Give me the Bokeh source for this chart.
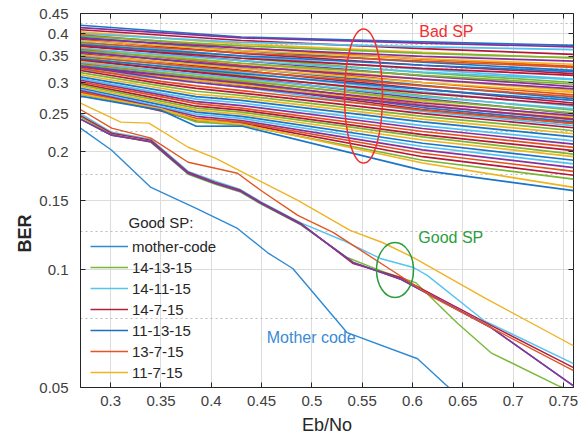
from bokeh.plotting import figure
from bokeh.models import (Range1d, FixedTicker, NumeralTickFormatter, LinearAxis, LogAxis,
                          Legend, LegendItem, Label, Title, ColumnDataSource, CustomJSTickFormatter)
from bokeh.embed import file_html
from bokeh.resources import INLINE

FONT = "Liberation Sans"

# ---------------- data ----------------
x_ticks = [0.3, 0.35, 0.4, 0.45, 0.5, 0.55, 0.6, 0.65, 0.7, 0.75]
y_ticks = [0.05, 0.1, 0.15, 0.2, 0.25, 0.3, 0.35, 0.4, 0.45]
y_minor = [0.075, 0.125, 0.175, 0.225, 0.275, 0.325, 0.375, 0.425]

mother_code_x = [0.27, 0.301, 0.34, 0.385, 0.426, 0.457, 0.481, 0.535, 0.605, 0.636, 0.66]
mother_code_ber = [0.2295, 0.2015, 0.162, 0.1432, 0.1273, 0.1099, 0.1006, 0.069, 0.0592, 0.05, 0.045]

sp_14_13_15_x = [0.27, 0.301, 0.34, 0.377, 0.404, 0.429, 0.449, 0.489, 0.535, 0.568, 0.603, 0.645, 0.678, 0.745, 0.76]
sp_14_13_15_ber = [0.245, 0.221, 0.211, 0.175, 0.165, 0.1575, 0.147, 0.130, 0.1073, 0.0994, 0.0926, 0.0728, 0.0613, 0.0505, 0.049]

sp_14_11_15_x = [0.27, 0.301, 0.34, 0.377, 0.404, 0.429, 0.449, 0.489, 0.531, 0.568, 0.601, 0.615, 0.671, 0.76]
sp_14_11_15_ber = [0.250, 0.224, 0.215, 0.178, 0.168, 0.160, 0.149, 0.1315, 0.1186, 0.1067, 0.1012, 0.0965, 0.0741, 0.0575]

sp_14_7_15_x = [0.27, 0.301, 0.34, 0.377, 0.404, 0.429, 0.449, 0.489, 0.541, 0.588, 0.678, 0.76]
sp_14_7_15_ber = [0.247, 0.2227, 0.2138, 0.1771, 0.1669, 0.1593, 0.1484, 0.1311, 0.1035, 0.0954, 0.072, 0.0562]

sp_11_13_15_x = [0.27, 0.301, 0.34, 0.377, 0.404, 0.429, 0.449, 0.489, 0.541, 0.588, 0.678, 0.76]
sp_11_13_15_ber = [0.242, 0.220, 0.212, 0.176, 0.166, 0.1585, 0.1478, 0.1305, 0.1042, 0.0945, 0.0711, 0.0505]

sp_13_7_15_x = [0.27, 0.301, 0.34, 0.377, 0.404, 0.426, 0.449, 0.486, 0.521, 0.575, 0.621, 0.76]
sp_13_7_15_ber = [0.256, 0.2295, 0.2163, 0.1878, 0.1813, 0.176, 0.1593, 0.1374, 0.1244, 0.1012, 0.0848, 0.0552]

sp_11_7_15_x = [0.27, 0.31, 0.338, 0.377, 0.404, 0.431, 0.486, 0.538, 0.57, 0.601, 0.673, 0.76]
sp_11_7_15_ber = [0.2658, 0.2377, 0.2363, 0.2051, 0.1923, 0.1771, 0.1501, 0.1258, 0.1172, 0.1073, 0.0843, 0.0639]

# bad SP curves (upper family)
bad_upper_x = [0.27, 0.43, 0.61, 0.76]
bad_upper_ber = [
    [0.420, 0.392, 0.381, 0.373], [0.414, 0.390, 0.378, 0.370], [0.409, 0.384, 0.366, 0.354],
    [0.404, 0.376, 0.358, 0.346], [0.400, 0.380, 0.370, 0.364], [0.397, 0.368, 0.344, 0.330],
    [0.394, 0.372, 0.356, 0.347], [0.391, 0.362, 0.338, 0.322], [0.389, 0.367, 0.350, 0.340],
    [0.386, 0.356, 0.332, 0.316], [0.384, 0.362, 0.345, 0.334], [0.381, 0.350, 0.324, 0.306],
    [0.379, 0.357, 0.340, 0.328], [0.377, 0.346, 0.318, 0.300], [0.375, 0.351, 0.332, 0.320],
    [0.373, 0.341, 0.312, 0.293], [0.371, 0.346, 0.326, 0.313], [0.368, 0.336, 0.306, 0.286],
    [0.366, 0.341, 0.319, 0.305], [0.364, 0.332, 0.300, 0.279], [0.362, 0.336, 0.313, 0.297],
    [0.360, 0.327, 0.295, 0.273], [0.358, 0.330, 0.306, 0.289], [0.355, 0.322, 0.289, 0.266],
    [0.353, 0.326, 0.300, 0.283], [0.351, 0.318, 0.284, 0.261], [0.349, 0.321, 0.294, 0.276],
    [0.347, 0.313, 0.278, 0.255], [0.345, 0.316, 0.288, 0.270], [0.343, 0.309, 0.273, 0.250],
    [0.341, 0.311, 0.282, 0.263], [0.339, 0.305, 0.268, 0.245], [0.337, 0.307, 0.276, 0.257],
    [0.335, 0.301, 0.263, 0.241], [0.333, 0.303, 0.271, 0.251], [0.331, 0.298, 0.259, 0.238],
    [0.329, 0.299, 0.266, 0.247], [0.327, 0.295, 0.256, 0.236], [0.325, 0.296, 0.262, 0.243],
    [0.323, 0.292, 0.253, 0.233],
]

# bad SP curves (lower family)
bad_lower_x = [0.27, 0.35, 0.385, 0.43, 0.61, 0.76]
bad_lower_ber = [
    [0.330, 0.308, 0.300, 0.292, 0.262, 0.242], [0.326, 0.302, 0.294, 0.286, 0.255, 0.236],
    [0.322, 0.298, 0.290, 0.282, 0.250, 0.230], [0.318, 0.294, 0.285, 0.278, 0.246, 0.226],
    [0.314, 0.290, 0.280, 0.274, 0.242, 0.222], [0.310, 0.286, 0.276, 0.270, 0.238, 0.218],
    [0.307, 0.282, 0.272, 0.266, 0.233, 0.213], [0.304, 0.279, 0.268, 0.262, 0.229, 0.209],
    [0.301, 0.276, 0.265, 0.258, 0.225, 0.205], [0.298, 0.272, 0.261, 0.255, 0.221, 0.201],
    [0.296, 0.269, 0.258, 0.252, 0.218, 0.197], [0.293, 0.266, 0.255, 0.249, 0.214, 0.194],
    [0.290, 0.263, 0.252, 0.246, 0.210, 0.190], [0.288, 0.260, 0.249, 0.243, 0.206, 0.186],
    [0.286, 0.258, 0.246, 0.240, 0.202, 0.182], [0.284, 0.256, 0.243, 0.238, 0.198, 0.178],
    [0.282, 0.254, 0.240, 0.236, 0.194, 0.174], [0.280, 0.256, 0.238, 0.234, 0.190, 0.170],
    [0.281, 0.257, 0.241, 0.235, 0.187, 0.162], [0.277, 0.255, 0.232, 0.2323, 0.179, 0.159],
]

# ---------------- style ----------------
palette = ["#1a75c9", "#e0521c", "#f0b41c", "#8a2f99", "#79b634", "#4fc3f0", "#b5163a"]
TXT = "#262626"
TICK_TXT = "#404040"

p = figure(width=579, height=443, x_range=Range1d(0.27, 0.76), y_range=Range1d(0.05, 0.45),
           y_axis_type="log", output_backend="svg", toolbar_location=None,
           min_border_left=80, min_border_right=6, min_border_top=13, min_border_bottom=56,
           background_fill_color="white", border_fill_color="white")
p.outline_line_color = TXT
p.outline_line_width = 1

xt = FixedTicker(ticks=x_ticks)
yt = FixedTicker(ticks=y_ticks, minor_ticks=y_minor)

xa = p.xaxis[0]
ya = p.yaxis[0]
xa.ticker = xt
ya.ticker = yt
for ax in (xa, ya):
    ax.formatter = NumeralTickFormatter(format="0.[00]")
    ax.major_label_text_font = FONT
    ax.major_label_text_font_size = "15px"
    ax.major_label_text_color = TICK_TXT
    ax.major_tick_in = 5
    ax.major_tick_out = 0
    ax.minor_tick_line_color = None
    ax.axis_line_color = TXT
    ax.major_tick_line_color = TXT
    ax.major_label_standoff = 8
xa.axis_label = "Eb/No"
xa.axis_label_text_font = FONT
xa.axis_label_text_font_size = "18px"
xa.axis_label_text_font_style = "normal"
xa.axis_label_text_color = TXT
xa.axis_label_standoff = 6

blank = CustomJSTickFormatter(code="return ''")
top = LinearAxis(ticker=FixedTicker(ticks=x_ticks), major_tick_in=5, major_tick_out=0,
                 minor_tick_line_color=None, axis_line_color=None, major_tick_line_color=TXT,
                 formatter=blank, major_label_standoff=0)
right = LogAxis(ticker=FixedTicker(ticks=y_ticks), major_tick_in=5, major_tick_out=0,
                minor_tick_line_color=None, axis_line_color=None, major_tick_line_color=TXT,
                formatter=blank, major_label_standoff=0)
p.add_layout(top, "above")
p.add_layout(right, "right")

# y-axis title, shifted down as in the reference
p.add_layout(Title(text="BER", align="left", offset=135, text_font=FONT, text_font_size="18px",
                   text_font_style="bold", text_color=TXT, standoff=4), "left")

p.xgrid.grid_line_color = "#dcdcdc"
p.ygrid.grid_line_color = "#dcdcdc"
p.ygrid.minor_grid_line_color = "#bcbcbc"
p.ygrid.minor_grid_line_dash = "2 3"

# bad SP curves
bxs, bys, bcs = [], [], []
for i, ys in enumerate(bad_upper_ber):
    bxs.append(bad_upper_x); bys.append(ys); bcs.append(palette[(i * 3) % 7])
for i, ys in enumerate(bad_lower_ber):
    bxs.append(bad_lower_x); bys.append(ys); bcs.append(palette[(i * 5 + 3) % 7])
p.multi_line(xs="xs", ys="ys", line_color="c", line_width=1.7,
             source=ColumnDataSource(dict(xs=bxs, ys=bys, c=bcs)))

# good SP curves: (label, x, ber, legend colour, plotted colour on top)
good = [
    ("mother-code", mother_code_x, mother_code_ber, "#2f8ad4", None),
    ("14-13-15", sp_14_13_15_x, sp_14_13_15_ber, "#7ab83a", None),
    ("14-11-15", sp_14_11_15_x, sp_14_11_15_ber, "#55c4f0", None),
    ("14-7-15", sp_14_7_15_x, sp_14_7_15_ber, "#b0203f", None),
    ("11-13-15", sp_11_13_15_x, sp_11_13_15_ber, "#1f6fc0", "#8a3597"),
    ("13-7-15", sp_13_7_15_x, sp_13_7_15_ber, "#e3561f", None),
    ("11-7-15", sp_11_7_15_x, sp_11_7_15_ber, "#f0b323", None),
]
items = []
for name, xs, ys, legcol, overcol in good:
    r = p.line(xs, ys, line_color=legcol, line_width=1.4)
    if overcol is not None:
        p.line(xs, ys, line_color=overcol, line_width=1.6)
    items.append(LegendItem(label=name, renderers=[r]))

legend = Legend(items=items, location=(10, 5), background_fill_alpha=0, border_line_color=None,
                label_text_font=FONT, label_text_font_size="15px", label_text_color=TXT,
                glyph_width=38, glyph_height=20, label_height=20, spacing=1, padding=5,
                margin=0, label_standoff=4)
p.add_layout(legend)

p.add_layout(Label(x=0.3177, y=0.1319, text="Good SP:", text_font=FONT, text_font_size="15px",
                   text_color=TXT, text_align="left", text_baseline="middle"))

# annotations
RED, GREEN, BLUE = "#f03030", "#2a9e3c", "#3a8ad6"
p.ellipse(x=[0.5513], y=[0.277], width=38, height=134, width_units="screen", height_units="screen",
          fill_color=None, line_color=RED, line_width=1.5)
p.ellipse(x=[0.5826], y=[0.0997], width=37, height=55, width_units="screen", height_units="screen",
          fill_color=None, line_color=GREEN, line_width=1.5)
p.add_layout(Label(x=0.6067, y=0.404, text="Bad SP", text_font=FONT, text_font_size="16px",
                   text_color=RED, text_align="left", text_baseline="middle"))
p.add_layout(Label(x=0.6058, y=0.121, text="Good SP", text_font=FONT, text_font_size="16px",
                   text_color=GREEN, text_align="left", text_baseline="middle"))
p.add_layout(Label(x=0.4551, y=0.0672, text="Mother code", text_font=FONT, text_font_size="16px",
                   text_color=BLUE, text_align="left", text_baseline="middle"))

open("out.html", "w").write(file_html(p, INLINE))
